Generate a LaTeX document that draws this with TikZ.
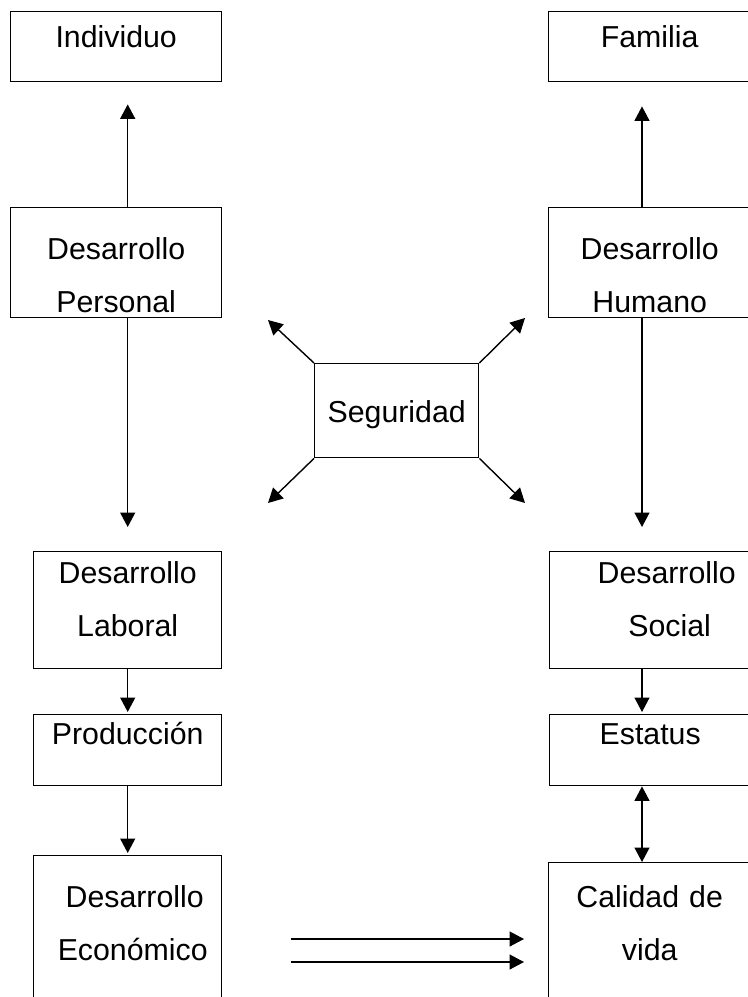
\documentclass[tikz,border=0pt]{standalone}
\usepackage{fontspec}
\setmainfont{Liberation Sans}
\usetikzlibrary{arrows.meta}

\begin{document}
\begin{tikzpicture}[x=0.5pt, y=-0.5pt, line width=0.7pt,
    >={Triangle[length=7.25pt, width=7.5pt]},
    every node/.style={font=\fontsize{15.15pt}{26.5pt}\selectfont},
    caja/.style={draw, anchor=north west, inner sep=0pt, align=center}]
    \useasboundingbox (0,0) rectangle (748,997);
    \coordinate (left col) at (127.7,0);
    \coordinate (right col) at (642,0);

    \node[caja, text width=105.5pt, text height=18pt, text depth=17pt] (individuo) at (10,11) {Individuo};
    \node[caja, text width=101pt, text height=18pt, text depth=17pt] (familia) at (548,11) {Familia};
    \node[caja, text width=105.5pt, text height=26pt, text depth=29pt] (desarrollo personal) at (10,207) {Desarrollo\\Personal};
    \node[caja, text width=101pt, text height=26pt, text depth=29pt] (desarrollo humano) at (548,207) {Desarrollo\\Humano};
    \node[caja, text width=82pt, text height=29.5pt, text depth=17.5pt] (seguridad) at (314,363) {Seguridad};
    \node[caja, text width=94pt, text height=16pt, text depth=42.5pt] (desarrollo laboral) at (33,551) {Desarrollo\\Laboral};
    \node[caja, text width=100.5pt, text height=16pt, text depth=42.5pt] (desarrollo social) at (549,551) {\hspace*{16.5pt}Desarrollo\\\hspace*{19.5pt}Social};
    \node[caja, text width=94pt, text height=15pt, text depth=20.5pt] (produccion) at (33,714) {Producción};
    \node[caja, text width=100.5pt, text height=15pt, text depth=20.5pt] (estatus) at (549,714) {Estatus};
    \node[caja, text width=94pt, text height=26pt, text depth=49pt] (desarrollo economico) at (33,855) {\hspace*{7pt}Desarrollo\\\hspace*{5pt}Económico};
    \node[caja, text width=101pt, text height=22.5pt, text depth=49pt] (calidad de vida) at (548,862) {Calidad de\\vida};

    % flechas libres
    \coordinate (seg nw) at (268,320);
    \coordinate (seg ne) at (525,318);
    \coordinate (seg sw) at (268,503);
    \coordinate (seg se) at (525,503);
    \coordinate (flecha 1) at (291,939);
    \coordinate (flecha 2) at (291,962);

    \draw[->, shorten >=11pt] (desarrollo personal.north -| left col) -- (individuo.south -| left col);
    \draw[->, shorten >=12pt] (desarrollo humano.north -| right col) -- (familia.south -| right col);
    \draw[->, shorten >=12pt] (desarrollo personal.south -| left col) -- (desarrollo laboral.north -| left col);
    \draw[->, shorten >=12pt] (desarrollo humano.south -| right col) -- (desarrollo social.north -| right col);
    \draw[->, shorten >=1pt] (desarrollo laboral.south -| left col) -- (produccion.north -| left col);
    \draw[->, shorten >=1pt] (desarrollo social.south -| right col) -- (estatus.north -| right col);
    \draw[->, shorten >=1pt] (produccion.south -| left col) -- (desarrollo economico.north -| left col);
    \draw[<->] (estatus.south -| right col) -- (calidad de vida.north -| right col);
    \draw[->] (seguridad.north west) -- (seg nw);
    \draw[->] (seguridad.north east) -- (seg ne);
    \draw[->] (seguridad.south west) -- (seg sw);
    \draw[->] (seguridad.south east) -- (seg se);
    \draw[->, shorten >=12pt] (flecha 1) -- (calidad de vida.west |- flecha 1);
    \draw[->, shorten >=12pt] (flecha 2) -- (calidad de vida.west |- flecha 2);
\end{tikzpicture}
\end{document}
